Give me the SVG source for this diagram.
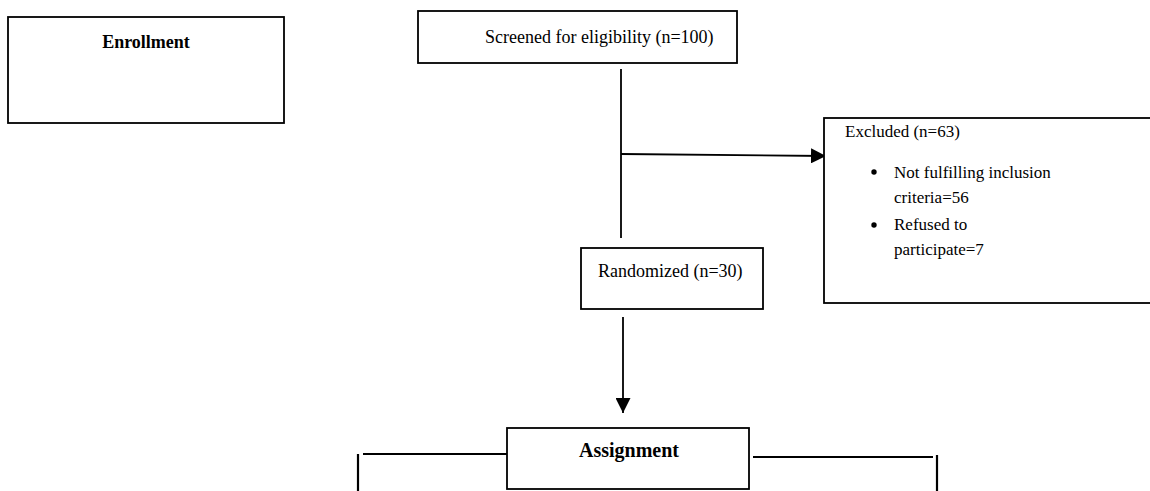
<svg xmlns="http://www.w3.org/2000/svg" width="1150" height="491" viewBox="0 0 1150 491">
<style>
.box{fill:#fff;stroke:#000;stroke-width:1.8}
.t{font-family:"Liberation Serif","Times New Roman",serif;fill:#000}
.s18{font-size:18px}
.s17{font-size:17px}
.b{font-weight:bold}
.ln{stroke:#000;stroke-width:1.8;fill:none}
.vl{stroke:#000;stroke-width:2.2;fill:none}
</style>
<defs>
<marker id="ah" markerWidth="15" markerHeight="15" refX="15" refY="7.5" orient="auto" markerUnits="userSpaceOnUse">
<path d="M0,0 L15,7.5 L0,15 Z" fill="#000"/>
</marker>
</defs>
<rect width="1150" height="491" fill="#fff"/>
<g id="connectors">
<line class="ln" x1="621" y1="69" x2="621" y2="238"/>
<line class="ln" x1="621" y1="154" x2="826" y2="156" marker-end="url(#ah)"/>
<line class="ln" x1="623" y1="317" x2="623" y2="413" marker-end="url(#ah)"/>
<line class="ln" x1="363" y1="454" x2="507" y2="454"/>
<line class="vl" x1="358" y1="454" x2="358" y2="495"/>
<line class="ln" x1="753" y1="457" x2="933" y2="457"/>
<line class="vl" x1="937" y1="455" x2="937" y2="495"/>
</g>
<g id="enrollment">
<rect class="box" x="8" y="17" width="276" height="106"/>
<text class="t b s18" x="146" y="48" text-anchor="middle">Enrollment</text>
</g>
<g id="screened">
<rect class="box" x="418" y="11" width="319" height="52"/>
<text class="t s18" x="485" y="43">Screened for eligibility (n=100)</text>
</g>
<g id="excluded">
<rect class="box" x="824" y="118" width="340" height="185"/>
<text class="t s17" x="845" y="137">Excluded (n=63)</text>
<circle cx="874" cy="172" r="2.7"/>
<circle cx="874" cy="225" r="2.7"/>
<text class="t s17" x="894" y="178">Not fulfilling inclusion</text>
<text class="t s17" x="894" y="203">criteria=56</text>
<text class="t s17" x="894" y="230">Refused to</text>
<text class="t s17" x="894" y="255">participate=7</text>
</g>
<g id="randomized">
<rect class="box" x="581" y="248" width="182" height="61"/>
<text class="t s18" x="598" y="277">Randomized (n=30)</text>
</g>
<g id="assignment">
<rect class="box" x="507" y="428" width="242" height="61"/>
<text class="t b" style="font-size:20px" x="629" y="457" text-anchor="middle">Assignment</text>
</g>
</svg>
